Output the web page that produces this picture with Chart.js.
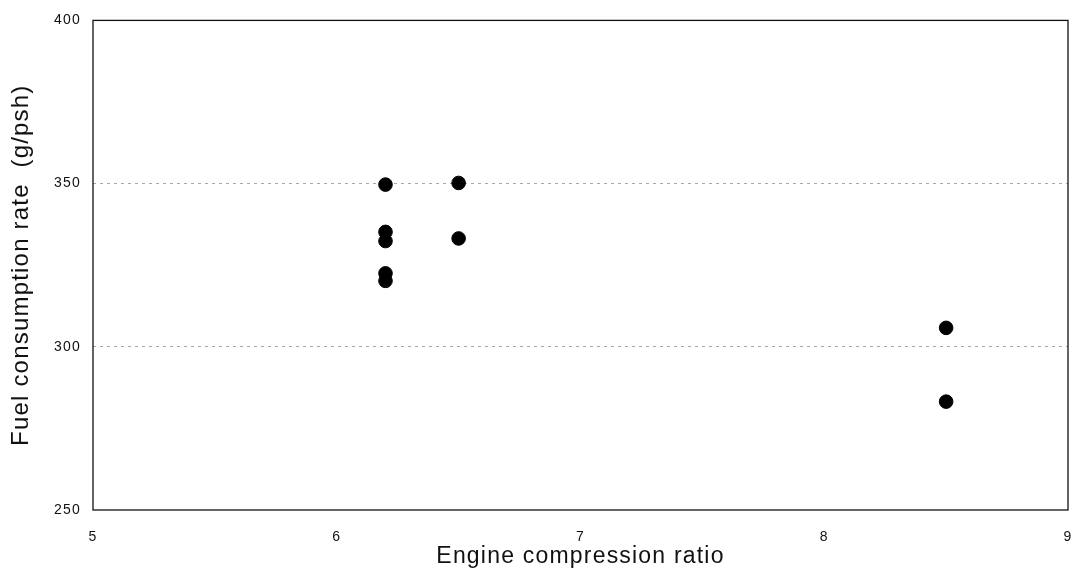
<!DOCTYPE html>
<html>
<head>
<meta charset="utf-8">
<script src="https://cdn.jsdelivr.net/npm/chart.js@4"></script>
<style>
html,body{margin:0;padding:0;background:#fff;}
#wrap{width:1089px;height:576px;position:relative;}
</style>
</head>
<body>
<div id="wrap"><canvas id="c" width="1089" height="576"></canvas></div>
<script>
const compressionRatio = [6.2, 6.2, 6.2, 6.2, 6.2, 6.5, 6.5, 8.5, 8.5];
const fuelRate = [349.7, 335.2, 332.4, 322.5, 320.2, 350.2, 333.2, 305.8, 283.2];
const xTicks = [5, 6, 7, 8, 9];
const yTicks = [250, 300, 350, 400];
const xTitle = 'Engine compression ratio';
const yTitle = 'Fuel consumption rate  (g/psh)';

const points = compressionRatio.map((x, i) => ({x: x, y: fuelRate[i]}));

const spacingPlugin = {
  id: 'spacing',
  beforeLayout(chart) { chart.ctx.letterSpacing = '1.2px'; },
  beforeDraw(chart) { chart.ctx.letterSpacing = '1.2px'; }
};

const framePlugin = {
  id: 'frame',
  afterDraw(chart) {
    const a = chart.chartArea, ctx = chart.ctx;
    ctx.save();
    ctx.strokeStyle = '#111';
    ctx.lineWidth = 1.3;
    ctx.strokeRect(a.left, a.top, a.right - a.left, a.bottom - a.top);
    ctx.restore();
  }
};

new Chart(document.getElementById('c'), {
  type: 'scatter',
  data: {
    datasets: [{
      data: points,
      backgroundColor: '#000',
      borderColor: '#000',
      pointRadius: 6.8,
      pointHoverRadius: 6.8
    }]
  },
  options: {
    responsive: false,
    animation: false,
    events: [],
    layout: {padding: {left: 0, right: 21, top: 16, bottom: 0}},
    plugins: {legend: {display: false}, tooltip: {enabled: false}},
    scales: {
      x: {
        type: 'linear',
        min: xTicks[0], max: xTicks[xTicks.length - 1],
        afterBuildTicks(s) { s.ticks = xTicks.map(v => ({value: v})); },
        afterFit(s) { s.height = 66; s.paddingRight = 0; s.paddingLeft = 0; },
        grid: {display: false, drawTicks: false},
        border: {display: false},
        ticks: {color: '#111', padding: 19, font: {family: 'Liberation Sans, Arial', size: 14}},
        title: {display: true, text: xTitle, color: '#111', padding: {top: 4, bottom: 6},
                font: {family: 'Liberation Sans, Arial', size: 23}}
      },
      y: {
        type: 'linear',
        min: yTicks[0], max: yTicks[yTicks.length - 1],
        afterBuildTicks(s) { s.ticks = yTicks.map(v => ({value: v})); },
        afterFit(s) { s.width = 93; },
        grid: {
          drawTicks: false,
          color: ctx => (ctx.tick && (ctx.tick.value === 300 || ctx.tick.value === 350)) ? '#a8a8a8' : 'rgba(0,0,0,0)',
          lineWidth: 1
        },
        border: {display: false, dash: [3, 4]},
        ticks: {color: '#111', padding: 12, font: {family: 'Liberation Sans, Arial', size: 14}},
        title: {display: true, text: yTitle, color: '#111', padding: {top: 7, bottom: 0},
                font: {family: 'Liberation Sans, Arial', size: 24}}
      }
    }
  },
  plugins: [spacingPlugin, framePlugin]
});
</script>
</body>
</html>
